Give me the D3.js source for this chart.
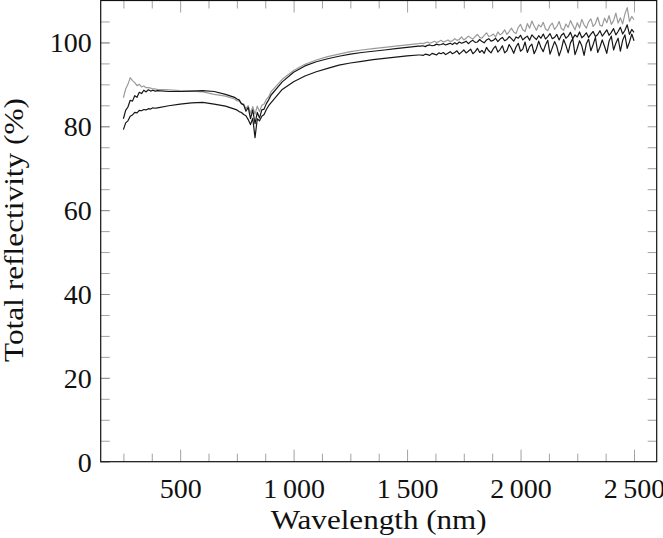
<!DOCTYPE html>
<html>
<head>
<meta charset="utf-8">
<script src="https://cdn.jsdelivr.net/npm/d3@7"></script>
<style>
  body { margin: 0; background: #fff; }
  text { font-family: "Liberation Serif", "DejaVu Serif", serif; fill: #111; }
</style>
</head>
<body>
<svg id="chart" width="663" height="538"></svg>
<script>
// sample wavelengths (nm) for the three spectra
var wavelength = [].concat(
  d3.range(250, 401, 10),
  d3.range(450, 701, 50),
  d3.range(740, 901, 10),
  d3.range(950, 1551, 50),
  d3.range(1560, 2501, 10)
);

// light grey spectrum
var seriesGrey = [
  86.8, 88.9, 90.0, 91.6, 90.9, 90.4, 89.7, 90.0, 89.4, 89.6, 89.2, 89.2, 89.1, 88.9, 88.9, 88.8,
  88.7, 88.5, 88.4, 88.2, 87.6, 87.2,
  86.5, 86.1, 86.0, 85.4, 85.3, 84.2, 84.9, 83.1, 84.7, 82.9, 84.8, 83.5, 85.0, 85.3, 86.4, 87.0, 88.2,
  91.2, 93.3, 94.8, 95.8, 96.6, 97.2, 97.8, 98.2, 98.5, 98.8, 99.1, 99.4, 99.7,
  99.8, 99.7, 99.9, 100.1, 99.8, 100.0, 100.3, 100.0, 100.2, 100.5, 100.1, 100.3, 100.6, 100.2, 100.4,
  100.9, 100.5, 100.7, 101.3, 100.6, 101.0, 101.5, 101.1, 100.8, 101.4, 101.9, 101.2, 101.0, 101.7, 102.3,
  101.4, 101.6, 102.0, 101.3, 102.5,
  101.8, 102.2, 103.0, 101.9, 102.6, 103.4, 102.5, 102.1, 103.6, 104.3, 103.0, 102.6, 104.5, 103.4, 105.1,
  103.9, 102.9, 104.2, 103.7, 104.8,
  103.2, 102.8, 104.0, 104.6, 103.1, 103.8, 105.0, 103.3, 102.9, 104.4, 103.6, 105.2, 104.1, 103.0, 104.7,
  103.5, 105.5, 104.2, 103.4, 104.9,
  105.6, 103.8, 104.5, 106.0, 104.1, 103.9, 105.8, 104.7, 106.4, 104.3, 105.2, 107.0, 104.6, 105.9, 104.4,
  106.8, 108.3, 105.0, 106.2, 105.4
];

// upper black spectrum
var seriesUpper = [
  81.8, 83.8, 84.6, 86.2, 86.0, 87.3, 86.9, 88.1, 87.8, 88.6, 88.2, 88.7, 88.4, 88.6, 88.4, 88.5,
  88.3, 88.3, 88.4, 88.5, 88.3, 87.6,
  86.9, 86.5, 86.3, 85.4, 85.1, 83.6, 84.5, 81.8, 83.9, 80.6, 83.3, 82.0, 83.9, 84.1, 85.4, 86.3, 87.4,
  90.6, 92.9, 94.4, 95.4, 96.1, 96.7, 97.2, 97.6, 97.9, 98.2, 98.5, 98.8, 99.1,
  99.1, 99.2, 99.0, 99.3, 99.4, 99.2, 99.3, 99.6, 99.4, 99.5, 99.7, 99.4, 99.6, 99.8, 99.5,
  99.9, 99.6, 100.1, 99.8, 100.0, 100.3, 99.7, 100.2, 100.5, 100.0, 100.1, 100.7, 100.2, 99.9, 100.6,
  100.9, 100.3, 100.5, 101.0, 100.2,
  100.8, 101.2, 100.4, 100.7, 101.4, 100.9, 100.3, 101.3, 101.0, 101.7, 100.6, 101.1, 101.5, 100.5, 101.8,
  101.2, 100.7, 101.6, 101.0, 102.0,
  100.8, 101.4, 102.1, 100.9, 101.2, 101.9, 100.6, 101.7, 102.2, 101.0, 101.5, 102.4, 100.9, 101.8, 101.3,
  102.5, 101.1, 101.6, 102.3, 101.2,
  102.0, 102.6, 101.4, 101.9, 102.8, 101.5, 102.2, 103.0, 101.7, 102.4, 103.3, 101.8, 102.6, 103.6, 102.0,
  102.9, 104.2, 101.9, 103.1, 102.4
];

// lower black spectrum
var seriesLower = [
  79.2, 80.8, 81.3, 82.4, 82.7, 83.3, 83.2, 83.8, 83.7, 84.0, 83.9, 84.2, 84.1, 84.4, 84.3, 84.4,
  84.9, 85.3, 85.6, 85.7, 85.3, 84.8,
  84.1, 83.9, 83.5, 83.3, 82.8, 82.5, 81.6, 80.4, 81.9, 77.3, 81.8, 81.3, 82.4, 82.8, 84.0, 84.9, 85.6,
  88.8, 90.6, 92.0, 93.0, 93.8, 94.6, 95.1, 95.5, 95.9, 96.2, 96.5, 96.8, 97.0,
  97.0, 96.9, 97.2, 97.1, 96.9, 97.4, 97.2, 97.0, 97.5, 97.3, 97.6, 97.1, 97.4, 97.8, 97.3,
  97.6, 98.0, 97.2, 97.7, 98.2, 97.5, 97.9, 98.4, 97.3, 97.8, 98.6, 97.6, 98.1, 97.4, 98.8,
  98.0, 97.5, 98.5, 99.1, 97.7,
  98.3, 99.2, 97.5, 98.0, 99.5, 98.6, 97.4, 98.9, 99.8, 97.9, 98.4, 100.1, 97.6, 99.0, 99.6,
  97.3, 98.5, 100.3, 98.8, 97.8,
  99.4, 100.5, 97.2, 98.7, 100.2, 99.0, 96.8, 98.4, 100.7, 99.3, 97.5, 99.9, 100.9, 97.1, 98.6,
  100.4, 99.2, 96.9, 99.7, 100.8,
  98.0, 99.5, 101.2, 97.6, 98.9, 100.6, 99.1, 97.4, 100.3, 101.5, 98.2, 99.8, 101.0, 97.9, 100.5,
  101.8, 98.6, 100.1, 102.0, 100.4
];

var xTicks = [500, 1000, 1500, 2000, 2500];
var xMinorTicks = d3.range(250, 2501, 125).filter(function(d){ return d % 500 != 0; });
var yTicks = [0, 20, 40, 60, 80, 100];
var yMinorTicks = d3.range(5, 110, 5);

var plotLeft = 100.7, plotRight = 656.7, plotTop = 0.5, plotBottom = 461.7;

var xScale = d3.scaleLinear().domain([150, 2600]).range([plotLeft, plotRight]);
var yScale = d3.scaleLinear().domain([0, 110]).range([plotBottom, plotTop]);

var svg = d3.select("#chart");

function fmt(d) {
  var s = String(d);
  return s.length > 3 ? s.slice(0, s.length - 3) + "\u2009" + s.slice(-3) : s;
}

// minor ticks (inside, all four sides)
svg.append("g")
    .attr("transform", "translate(0," + plotBottom + ")")
    .call(d3.axisBottom(xScale).tickValues(xMinorTicks).tickSize(-8).tickFormat(""));
svg.append("g")
    .attr("transform", "translate(0," + plotTop + ")")
    .call(d3.axisTop(xScale).tickValues(xMinorTicks).tickSize(-8).tickFormat(""));
svg.append("g")
    .attr("transform", "translate(" + plotLeft + ",0)")
    .call(d3.axisLeft(yScale).tickValues(yMinorTicks).tickSize(-9).tickFormat(""));
svg.append("g")
    .attr("transform", "translate(" + plotRight + ",0)")
    .call(d3.axisRight(yScale).tickValues(yMinorTicks).tickSize(-9).tickFormat(""));

// major ticks + labels
var xAxis = svg.append("g")
    .attr("transform", "translate(0," + plotBottom + ")")
    .call(d3.axisBottom(xScale).tickValues(xTicks).tickSize(-12).tickFormat(fmt));
svg.append("g")
    .attr("transform", "translate(0," + plotTop + ")")
    .call(d3.axisTop(xScale).tickValues(xTicks).tickSize(-12).tickFormat(""));
var yAxis = svg.append("g")
    .attr("transform", "translate(" + plotLeft + ",0)")
    .call(d3.axisLeft(yScale).tickValues(yTicks).tickSize(-9).tickFormat(d3.format("d")));

svg.selectAll(".domain").remove();
svg.selectAll(".tick line").attr("stroke", "#8a8a8a").attr("stroke-width", 0.8);
svg.selectAll(".tick text")
    .attr("font-family", "Liberation Serif")
    .attr("font-size", "28px")
    .attr("fill", "#111");
xAxis.selectAll(".tick text").attr("dy", null).attr("y", 36);
yAxis.selectAll(".tick text").attr("dy", "0.34em").attr("x", -9);

// spectra
var line = d3.line()
    .x(function(d, i){ return xScale(wavelength[i]); })
    .y(function(d){ return yScale(d); });

var series = [
  {values: seriesGrey, color: "#9a9a9a"},
  {values: seriesUpper, color: "#161616"},
  {values: seriesLower, color: "#161616"}
];

svg.append("g").selectAll("path")
    .data(series)
    .enter()
    .append("path")
    .attr("d", function(d){ return line(d.values); })
    .attr("fill", "none")
    .attr("stroke", function(d){ return d.color; })
    .attr("stroke-width", 1.2)
    .attr("stroke-linejoin", "round");

// frame
svg.append("rect")
    .attr("x", plotLeft)
    .attr("y", plotTop)
    .attr("width", plotRight - plotLeft)
    .attr("height", plotBottom - plotTop)
    .attr("fill", "none")
    .attr("stroke", "#111")
    .attr("stroke-width", 1.2);

// axis titles
svg.append("text")
    .attr("x", (plotLeft + plotRight) / 2)
    .attr("y", 529)
    .attr("text-anchor", "middle")
    .attr("font-size", "28px")
    .attr("textLength", 216)
    .attr("lengthAdjust", "spacingAndGlyphs")
    .text("Wavelength (nm)");

svg.append("text")
    .attr("transform", "translate(23," + 230 + ") rotate(-90)")
    .attr("text-anchor", "middle")
    .attr("font-size", "28px")
    .attr("textLength", 264)
    .attr("lengthAdjust", "spacingAndGlyphs")
    .text("Total reflectivity (%)");
</script>
</body>
</html>
